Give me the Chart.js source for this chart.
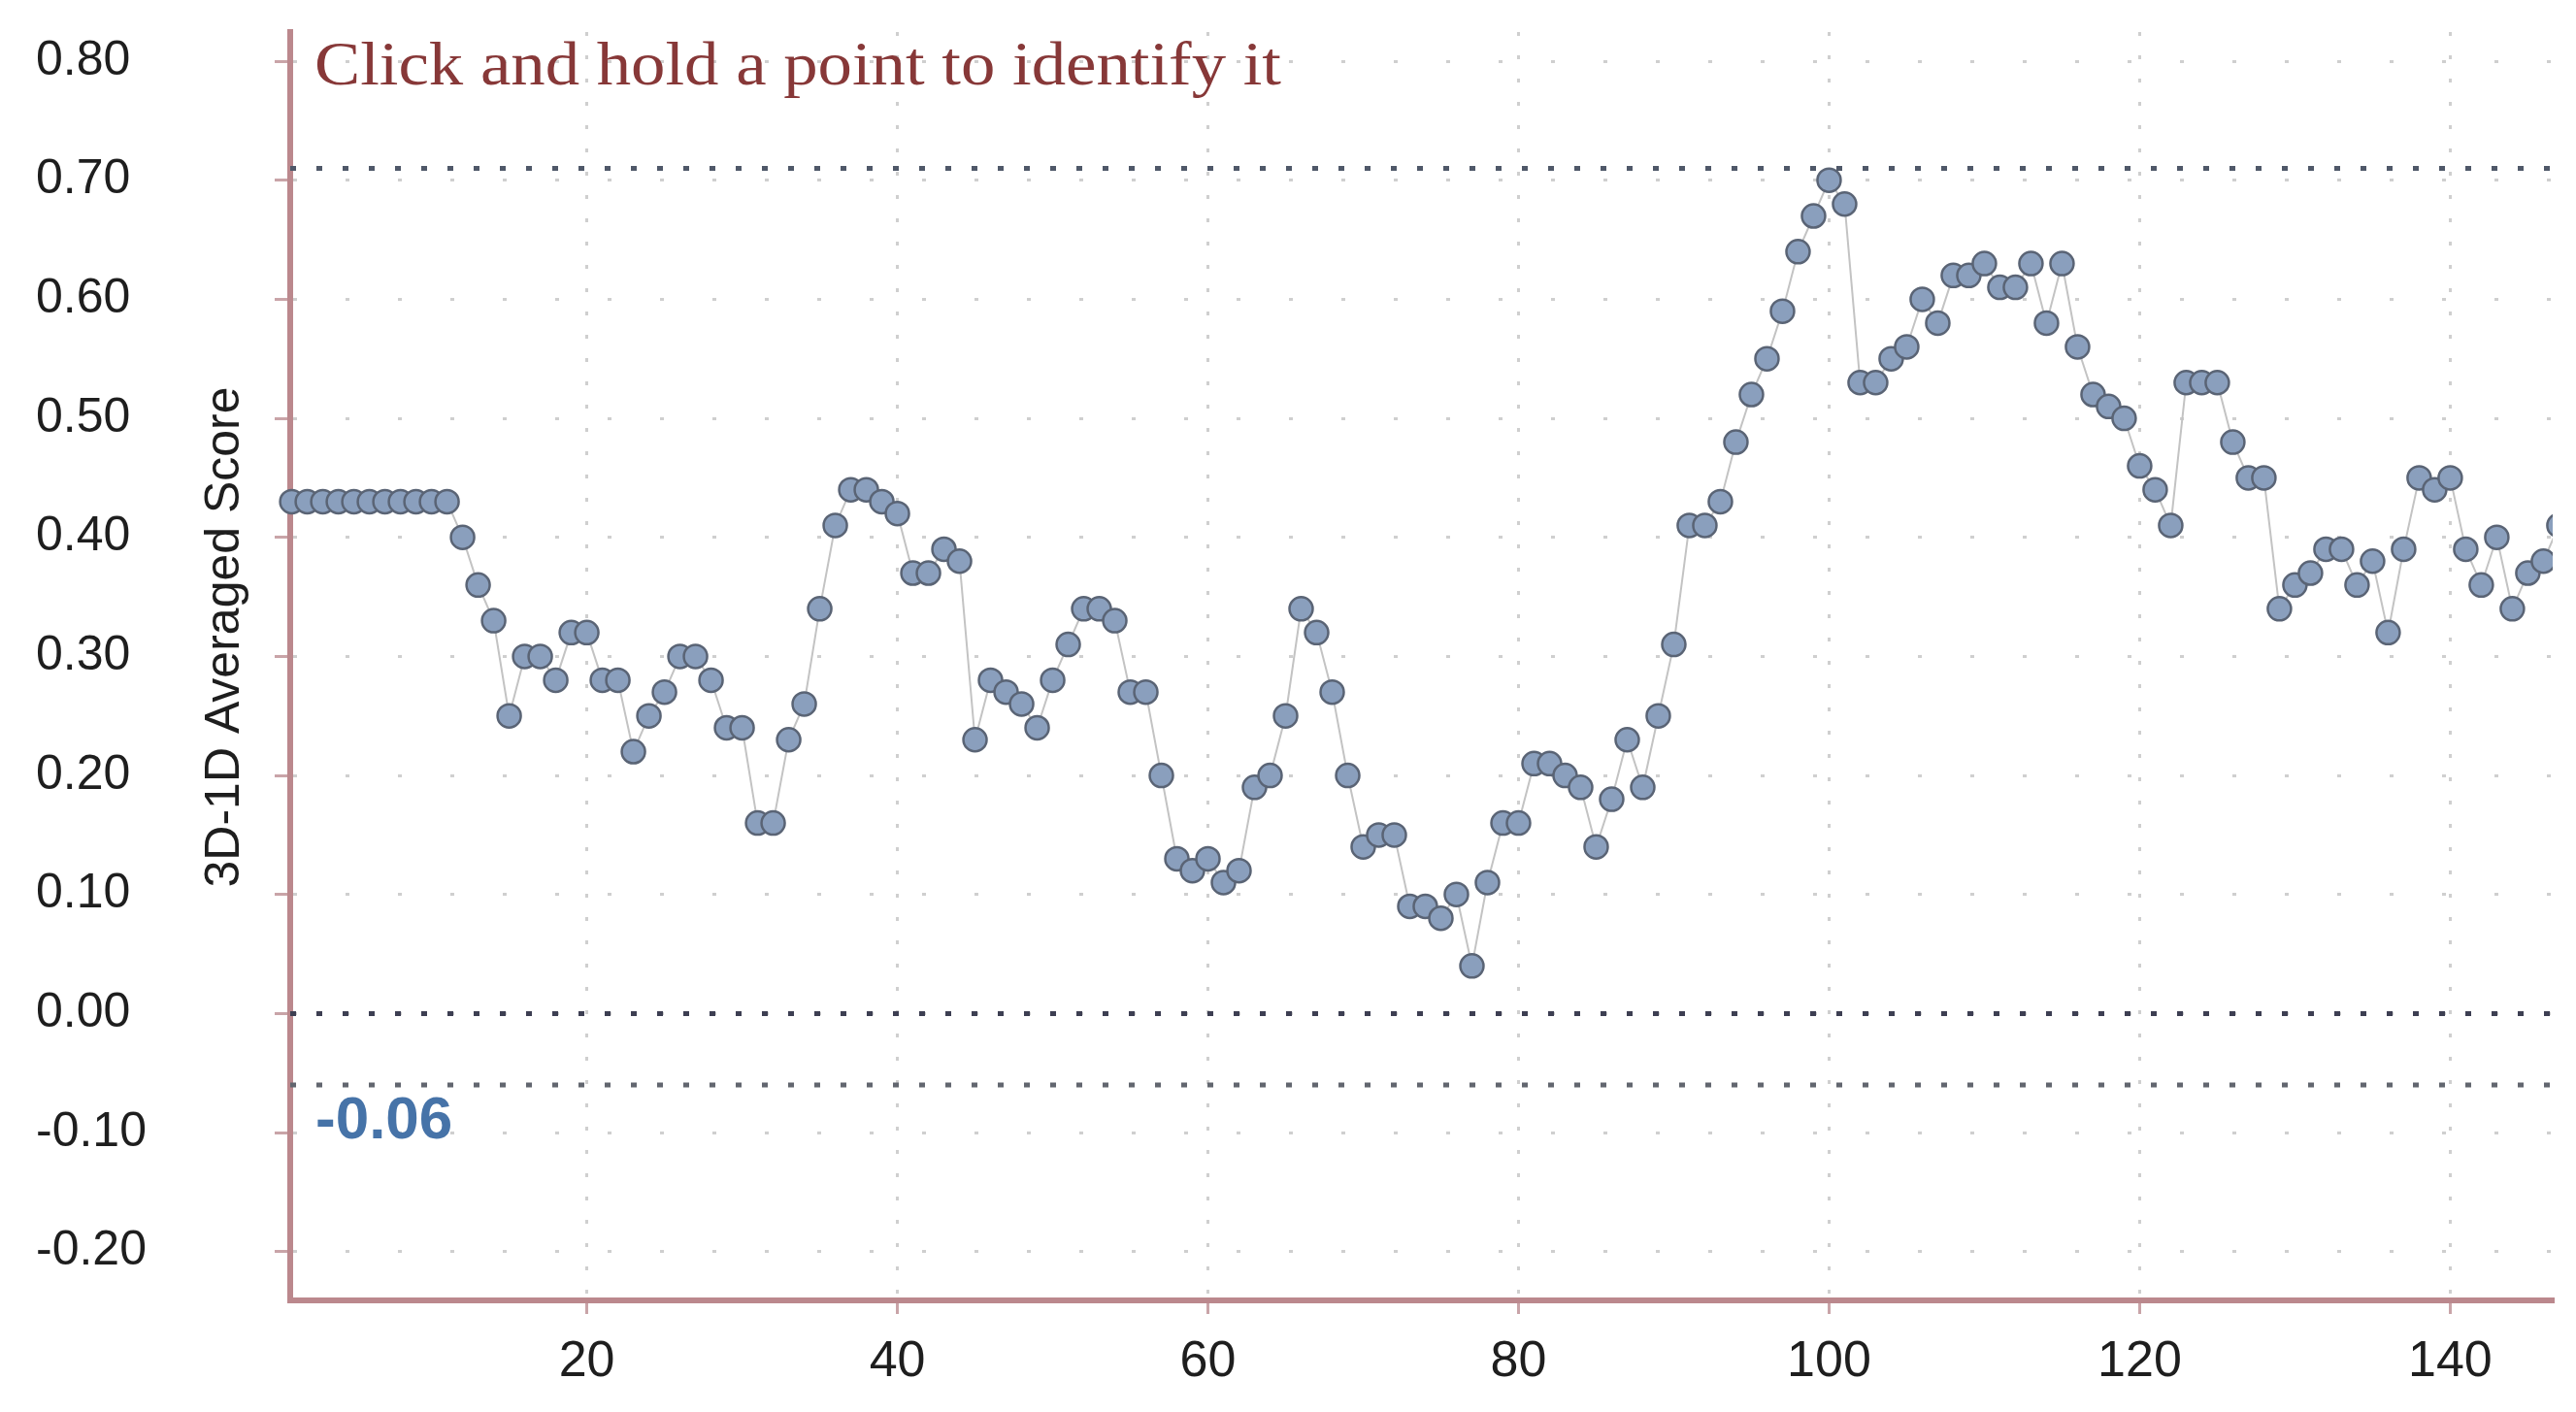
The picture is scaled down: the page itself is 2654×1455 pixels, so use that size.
<!DOCTYPE html>
<html lang="en">
  <head>
    <meta charset="UTF-8" />
    <meta name="viewport" content="width=device-width, initial-scale=1.0" />
    <title>3D-1D Averaged Score</title>
    <script src="https://cdn.jsdelivr.net/npm/chart.js"></script>
    <style>
      html, body { margin: 0; padding: 0; background: #ffffff; }
      .graph { width: 2654px; height: 1455px; }
    </style>
  </head>
<body>
    <div class="graph">
        <canvas id="graficoScore"></canvas>
    </div>

  <script>

    // residue number (x) and 3D-1D averaged score (y)
    const residuos = [
        1, 2, 3, 4, 5, 6, 7, 8, 9, 10, 11, 12, 13, 14, 15, 16, 17, 18, 19, 20,
        21, 22, 23, 24, 25, 26, 27, 28, 29, 30, 31, 32, 33, 34, 35, 36, 37, 38, 39, 40,
        41, 42, 43, 44, 45, 46, 47, 48, 49, 50, 51, 52, 53, 54, 55, 56, 57, 58, 59, 60,
        61, 62, 63, 64, 65, 66, 67, 68, 69, 70, 71, 72, 73, 74, 75, 76, 77, 78, 79, 80,
        81, 82, 83, 84, 85, 86, 87, 88, 89, 90, 91, 92, 93, 94, 95, 96, 97, 98, 99, 100,
        101, 102, 103, 104, 105, 106, 107, 108, 109, 110, 111, 112, 113, 114, 115, 116, 117, 118, 119, 120,
        121, 122, 123, 124, 125, 126, 127, 128, 129, 130, 131, 132, 133, 134, 135, 136, 137, 138, 139, 140,
        141, 142, 143, 144, 145, 146, 147
    ];
    const escores = [
        0.43, 0.43, 0.43, 0.43, 0.43, 0.43, 0.43, 0.43, 0.43, 0.43,
        0.43, 0.40, 0.36, 0.33, 0.25, 0.30, 0.30, 0.28, 0.32, 0.32,
        0.28, 0.28, 0.22, 0.25, 0.27, 0.30, 0.30, 0.28, 0.24, 0.24,
        0.16, 0.16, 0.23, 0.26, 0.34, 0.41, 0.44, 0.44, 0.43, 0.42,
        0.37, 0.37, 0.39, 0.38, 0.23, 0.28, 0.27, 0.26, 0.24, 0.28,
        0.31, 0.34, 0.34, 0.33, 0.27, 0.27, 0.20, 0.13, 0.12, 0.13,
        0.11, 0.12, 0.19, 0.20, 0.25, 0.34, 0.32, 0.27, 0.20, 0.14,
        0.15, 0.15, 0.09, 0.09, 0.08, 0.10, 0.04, 0.11, 0.16, 0.16,
        0.21, 0.21, 0.20, 0.19, 0.14, 0.18, 0.23, 0.19, 0.25, 0.31,
        0.41, 0.41, 0.43, 0.48, 0.52, 0.55, 0.59, 0.64, 0.67, 0.70,
        0.68, 0.53, 0.53, 0.55, 0.56, 0.60, 0.58, 0.62, 0.62, 0.63,
        0.61, 0.61, 0.63, 0.58, 0.63, 0.56, 0.52, 0.51, 0.50, 0.46,
        0.44, 0.41, 0.53, 0.53, 0.53, 0.48, 0.45, 0.45, 0.34, 0.36,
        0.37, 0.39, 0.39, 0.36, 0.38, 0.32, 0.39, 0.45, 0.44, 0.45,
        0.39, 0.36, 0.40, 0.34, 0.37, 0.38, 0.41
    ];

    // dotted reference lines: upper limit, zero, lower limit
    const limites = [0.71, 0.00, -0.06];

    const marcasX = [20, 40, 60, 80, 100, 120, 140];
    const marcasY = [-0.20, -0.10, 0.00, 0.10, 0.20, 0.30, 0.40, 0.50, 0.60, 0.70, 0.80];

    const xMin = 0.9, xMax = 146.6;
    const yMin = -0.241, yMax = 0.8245;

    const tituloY = "3D-1D Averaged Score";
    const aviso = "Click and hold a point to identify it";

    const fonteSans = '"Liberation Sans", Arial, sans-serif';

    // texts that sit inside / beside the plot area
    const textosExtras = {
        id: 'textosExtras',
        afterDraw(chart) {
            const {ctx, chartArea, scales} = chart;
            const y = scales.y;

            // hint at the top, serif, stretched a bit wider like the original
            ctx.save();
            ctx.font = '63px "Liberation Serif", "Times New Roman", serif';
            ctx.fillStyle = '#873838';
            ctx.textBaseline = 'alphabetic';
            const larg = ctx.measureText(aviso).width;
            ctx.translate(chartArea.left + 25, y.getPixelForValue(0.80) + 24);
            ctx.scale(996 / larg, 1);
            ctx.fillText(aviso, 0, 0);
            ctx.restore();

            // value of the lower limit written under its line
            ctx.save();
            ctx.font = 'bold 62px ' + fonteSans;
            ctx.fillStyle = '#4673a8';
            ctx.textBaseline = 'middle';
            ctx.fillText(limites[2].toFixed(2), chartArea.left + 26, y.getPixelForValue(limites[2]) + 38);
            ctx.restore();

            // y axis title, between tick labels and axis line
            ctx.save();
            ctx.font = '50px ' + fonteSans;
            ctx.fillStyle = '#1e1e1e';
            ctx.textAlign = 'center';
            ctx.textBaseline = 'alphabetic';
            ctx.translate(chartArea.left - 53, chartArea.top + (chartArea.bottom - chartArea.top) * 0.477);
            ctx.rotate(-Math.PI / 2);
            ctx.fillText(tituloY, 0, 0);
            ctx.restore();
        }
    };

    function linhaLimite(valor, cor) {
        return {
            type: 'line',
            data: [{x: xMin, y: valor}, {x: xMax, y: valor}],
            borderColor: cor,
            borderWidth: 5,
            borderDash: [6, 21],
            borderCapStyle: 'butt',
            pointRadius: 0,
            order: 1,
        };
    }

    const dadosScore = {
        datasets: [
            {
                label: tituloY,
                data: residuos.map((r, i) => ({x: r, y: escores[i]})),
                borderColor: '#c3c3c3',
                borderWidth: 2,
                pointRadius: 12,
                pointBackgroundColor: '#8a9fbd',
                pointBorderColor: '#5a6475',
                pointBorderWidth: 2.5,
                tension: 0,
                order: 0,
                clip: {left: 20, top: 20, right: 0, bottom: 20},
            },
            linhaLimite(limites[0], '#4f5869'),
            linhaLimite(limites[1], '#3d3f52'),
            linhaLimite(limites[2], '#62666f'),
        ],
    };

    const configScore = {
        type: 'line',
        data: dadosScore,
        options: {
            responsive: true,
            maintainAspectRatio: false,
            animation: false,
            events: [],
            layout: { padding: {left: 37, top: 33, right: 24, bottom: 0} },
            plugins: {
                legend: { display: false },
                tooltip: { enabled: false },
            },
            scales: {
                x: {
                    type: 'linear',
                    min: xMin,
                    max: xMax,
                    afterBuildTicks: (s) => { s.ticks = marcasX.map(v => ({value: v})); },
                    afterFit: (s) => { s.height = 115; s.paddingLeft = 0; s.paddingRight = 0; },
                    ticks: {
                        font: { size: 52, family: fonteSans },
                        color: '#1e1e1e',
                        padding: 18,
                        maxRotation: 0,
                        autoSkip: false,
                    },
                    grid: {
                        color: '#cfcfcf',
                        lineWidth: 3,
                        tickLength: 14,
                        tickColor: '#c9a4a8',
                        tickWidth: 3,
                    },
                    border: { color: '#bb888d', width: 6, dash: [4, 20] },
                },
                y: {
                    type: 'linear',
                    min: yMin,
                    max: yMax,
                    afterBuildTicks: (s) => { s.ticks = marcasY.map(v => ({value: v})); },
                    afterFit: (s) => { s.width = 262; s.paddingTop = 0; s.paddingBottom = 0; },
                    ticks: {
                        font: { size: 50, family: fonteSans },
                        color: '#1e1e1e',
                        crossAlign: 'far',
                        callback: (v) => Number(v).toFixed(2),
                    },
                    grid: {
                        color: '#cfcfcf',
                        lineWidth: 3,
                        tickLength: 16,
                        tickColor: '#c9a4a8',
                        tickWidth: 3,
                    },
                    border: { color: '#bb888d', width: 6, dash: [4, 50] },
                },
            },
        },
        plugins: [textosExtras],
    };

    var graficoScore = new Chart(document.getElementById('graficoScore'), configScore);

  </script>
</body>
</html>
